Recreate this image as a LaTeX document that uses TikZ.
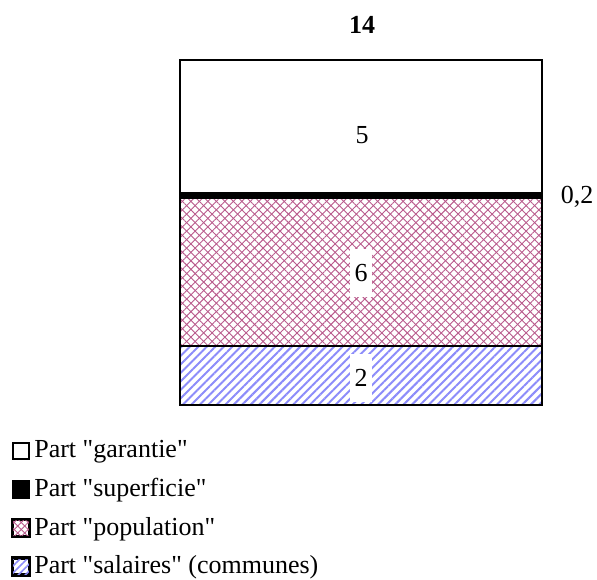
\documentclass[tikz,border=0pt]{standalone}
\usepackage{fontspec}
\setmainfont{Liberation Serif}
\usepackage{tikz}
\usetikzlibrary{positioning,patterns.meta}

\definecolor{popcol}{RGB}{185,90,140}
\definecolor{salcol}{RGB}{140,140,250}
\newcommand{\qt}[1]{\textquotedbl#1\textquotedbl}

\begin{document}
\begin{tikzpicture}[x=1pt, y=-1pt, font=\fontsize{26}{30}\selectfont]
  \tikzstyle{part}=[draw=black, line width=2.6pt]
  \tikzstyle{value}=[fill=white, inner sep=0pt, minimum width=22pt, minimum height=48pt]
  \tikzstyle{legbox}=[draw=black, line width=2.2pt, minimum size=16pt, inner sep=0pt]
  \tikzstyle{legtext}=[inner sep=0pt, anchor=west]

  \useasboundingbox (0,0) rectangle (597,579);

  % les quatre parts
  \fill[white] (180,60) rectangle (542,192);
  \fill[black] (180,192) rectangle (542,199);
  \fill[white] (180,199) rectangle (542,346);
  \fill[pattern={Lines[angle=45,distance=6pt,line width=0.9pt]}, pattern color=popcol] (180,199) rectangle (542,346);
  \fill[pattern={Lines[angle=-45,distance=6pt,line width=0.9pt]}, pattern color=popcol] (180,199) rectangle (542,346);
  \fill[white] (180,346) rectangle (542,405);
  \fill[pattern={Lines[angle=45,distance=6pt,line width=2pt]}, pattern color=salcol] (180,346) rectangle (542,405);
  \draw[line width=2pt] (180,346) -- (542,346);
  \draw[part] (180,60) rectangle (542,405);

  \node (total) at (362,25) {\textbf{14}};
  \node (gar) at (362,135) {5};
  \node (sup) at (577,197) {0,2};
  \node[value] (pop) at (361,273) {6};
  \node[value] (sal) at (361,378) {2};

  % legende
  \node[legbox, fill=white] (k1) at (21,451) {};
  \node[legbox, fill=black] (k2) [below=20.3pt of k1] {};
  \node[legbox, fill=white] (k3) [below=20.3pt of k2] {};
  \node[legbox, fill=white] (k4) [below=20.3pt of k3] {};
  \fill[pattern={Lines[angle=45,distance=5pt,line width=0.9pt]}, pattern color=popcol] (k3.south west) rectangle (k3.north east);
  \fill[pattern={Lines[angle=-45,distance=5pt,line width=0.9pt]}, pattern color=popcol] (k3.south west) rectangle (k3.north east);
  \fill[pattern={Lines[angle=45,distance=5pt,line width=1.6pt]}, pattern color=salcol] (k4.south west) rectangle (k4.north east);
  \draw[line width=2.2pt] (k3.south west) rectangle (k3.north east);
  \draw[line width=2.2pt] (k4.south west) rectangle (k4.north east);

  \node[legtext] (t1) at ([xshift=4pt,yshift=-1pt]k1.east) {Part \qt{garantie}};
  \node[legtext] (t2) at ([xshift=4pt,yshift=-1pt]k2.east) {Part \qt{superficie}};
  \node[legtext] (t3) at ([xshift=4pt,yshift=-1pt]k3.east) {Part \qt{population}};
  \node[legtext] (t4) at ([xshift=4pt,yshift=-1pt]k4.east) {Part \qt{salaires} (communes)};
\end{tikzpicture}
\end{document}
